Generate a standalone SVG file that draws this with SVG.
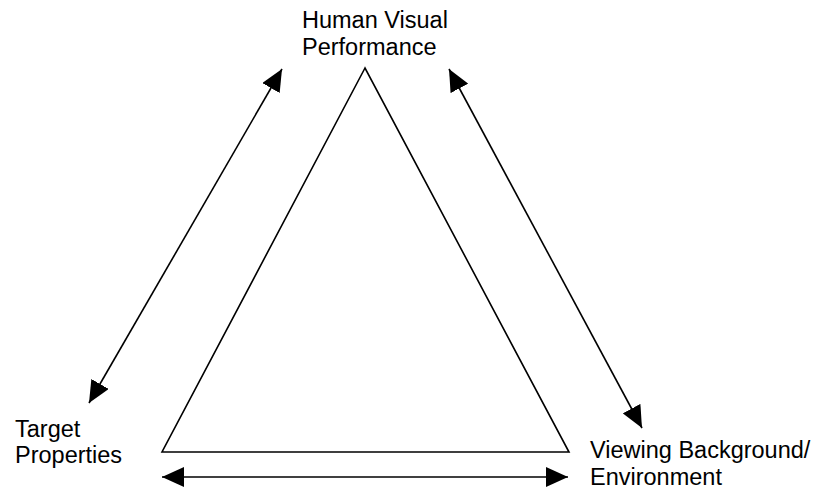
<svg xmlns="http://www.w3.org/2000/svg" width="819" height="490" viewBox="0 0 819 490">
  <style>
    .label { font-family: "Liberation Sans", Arial, sans-serif; font-size: 23.5px; fill: #000; }
    .edge { stroke: #000; stroke-width: 1.6; fill: none; }
    .tri { stroke: #000; stroke-width: 1.6; fill: #fff; }
  </style>
  <defs>
    <marker id="head" markerUnits="userSpaceOnUse" markerWidth="22" markerHeight="20" refX="22" refY="10" orient="auto-start-reverse" viewBox="0 0 22 20">
      <path d="M0,0 L22,10 L0,20 z" fill="#000"/>
    </marker>
  </defs>
  <rect width="819" height="490" fill="#fff"/>

  <g id="triangle">
    <polygon class="tri" points="365,68 162,452 569,452"/>
  </g>

  <g id="human-visual-performance">
    <text class="label" x="302" y="28">Human Visual</text>
    <text class="label" x="302" y="55">Performance</text>
  </g>

  <g id="target-properties">
    <text class="label" x="15" y="437">Target</text>
    <text class="label" x="15" y="463">Properties</text>
  </g>

  <g id="viewing-background">
    <text class="label" x="590" y="458">Viewing Background/</text>
    <text class="label" x="590" y="485">Environment</text>
  </g>

  <g id="connectors">
    <line class="edge" x1="89" y1="403" x2="282" y2="69" marker-start="url(#head)" marker-end="url(#head)"/>
    <line class="edge" x1="449" y1="69" x2="642" y2="428" marker-start="url(#head)" marker-end="url(#head)"/>
    <line class="edge" x1="162" y1="477" x2="568" y2="477" marker-start="url(#head)" marker-end="url(#head)"/>
  </g>
</svg>
